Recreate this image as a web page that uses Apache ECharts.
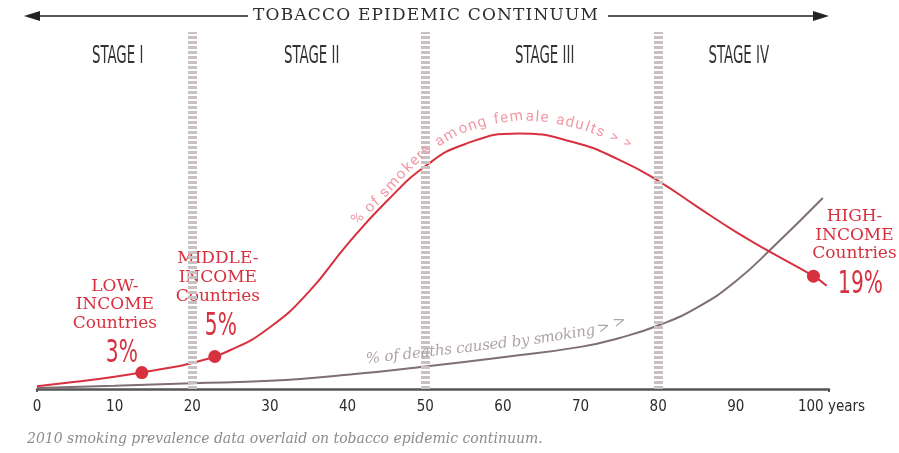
<!DOCTYPE html>
<html>
<head>
<meta charset="utf-8">
<script src="https://cdn.jsdelivr.net/npm/echarts@6/dist/echarts.min.js"></script>
<style>
  html, body { margin: 0; padding: 0; background: #fff; }
  #chart { width: 899px; height: 453px; }
</style>
</head>
<body>
<div id="chart"></div>
<script>
// years on the continuum
const xTicks = [0, 10, 20, 30, 40, 50, 60, 70, 80, 90, 100]
const stageBounds = [0, 20, 50, 80, 100]
const stageNames = ['STAGE I', 'STAGE II', 'STAGE III', 'STAGE IV']

// relative level (0-100) of the two curves
const femaleSmokers = [
  [0, 0.8], [5, 2.0], [10, 3.4], [15, 5.2], [20, 7.3], [25, 11.0], [30, 17.3],
  [35, 27.2], [40, 40.6], [45, 52.5], [50, 62.4], [55, 68.5], [62, 71.6],
  [69, 69.2], [75, 64.2], [80, 58.3], [85, 51.1], [90, 44.0], [95, 37.7], [100, 31.6], [101.7, 28.9]
]
const smokingDeaths = [
  [0, 0.3], [10, 0.9], [20, 1.6], [30, 2.3], [40, 4.0], [50, 6.3], [60, 8.9],
  [70, 11.8], [75, 14.3], [80, 17.8], [85, 22.8], [90, 30.2], [95, 40.2], [101.2, 53.5]
]

// 2010 prevalence points
const groupNames = [['LOW-', 'INCOME', 'Countries'], ['MIDDLE-', 'INCOME', 'Countries'], ['HIGH-', 'INCOME', 'Countries']]
const groupValues = ['3%', '5%', '19%']
const groupPoints = [[13.5, 4.6], [22.9, 9.1], [100, 31.6]]

const RED = '#d7313f'
const GREY = '#7f6f72'
const NARROW = "'Liberation Sans Narrow', 'DejaVu Sans Condensed', sans-serif"
const SLAB = "'DejaVu Serif', serif"

const chart = echarts.init(document.getElementById('chart'))

chart.setOption({
  animation: false,
  grid: { left: 37, right: 70, top: 32, bottom: 64 },
  xAxis: {
    type: 'value', min: 0, max: 102, interval: 10,
    splitLine: { show: false },
    axisLine: { lineStyle: { color: '#555', width: 2.5 } },
    axisTick: { show: true, customValues: [0, 102], length: 3, lineStyle: { color: '#555', width: 2 } },
    axisLabel: {
      margin: 11, color: '#2b2b2b', fontFamily: NARROW, fontSize: 15,
      formatter: (v) => {
        if (v === 100) return '{y|100 years}'
        return xTicks.indexOf(v) >= 0 ? String(v) : ''
      },
      rich: { y: { fontFamily: NARROW, fontSize: 15, color: '#2b2b2b', padding: [0, 0, 0, 36] } }
    }
  },
  yAxis: { type: 'value', min: 0, max: 100, show: false },
  series: [
    {
      type: 'line', data: [], z: 1, silent: true,
      markLine: {
        symbol: 'none', silent: true, label: { show: false },
        lineStyle: { color: '#c9c0c3', width: 9, type: [3, 2] },
        data: stageBounds.slice(1, 4).map(v => ({ xAxis: v }))
      }
    },
    {
      type: 'line', data: smokingDeaths, smooth: 0.5, showSymbol: false, z: 3,
      lineStyle: { color: GREY, width: 2 }
    },
    {
      type: 'line', data: femaleSmokers, smooth: 0.5, showSymbol: false, z: 4,
      lineStyle: { color: RED, width: 2 }
    },
    {
      type: 'scatter', data: groupPoints, symbolSize: 13, z: 5,
      itemStyle: { color: RED, opacity: 1 }
    }
  ]
})

// text laid along a polyline, one glyph at a time, spread to fill the path
const measure = document.createElement('canvas').getContext('2d')
function textAlong(text, pts, font, color) {
  measure.font = font
  const segs = []
  let total = 0
  for (let i = 1; i < pts.length; i++) {
    const dx = pts[i][0] - pts[i - 1][0], dy = pts[i][1] - pts[i - 1][1]
    const len = Math.sqrt(dx * dx + dy * dy)
    segs.push({ p: pts[i - 1], dx, dy, len, start: total })
    total += len
  }
  const chars = Array.from(text)
  const widths = chars.map(ch => measure.measureText(ch).width)
  const used = widths.reduce((a, b) => a + b, 0)
  const spacing = (total - used) / (chars.length - 1)
  const out = []
  let d = 0
  chars.forEach((ch, k) => {
    const w = widths[k]
    const mid = d + w / 2
    let s = segs[segs.length - 1]
    for (const sg of segs) { if (mid <= sg.start + sg.len) { s = sg; break } }
    const t = (mid - s.start) / s.len
    out.push({
      type: 'text', x: s.p[0] + s.dx * t, y: s.p[1] + s.dy * t,
      rotation: -Math.atan2(s.dy, s.dx), silent: true, z: 10,
      style: { text: ch, font, fill: color, align: 'center', verticalAlign: 'bottom' }
    })
    d += w + spacing
  })
  return out
}

const px = (v) => chart.convertToPixel({ gridIndex: 0 }, v)
const g = []

// header arrow + title
g.push({ type: 'line', shape: { x1: 36, y1: 16, x2: 248, y2: 16 }, style: { stroke: '#222', lineWidth: 1.5 } })
g.push({ type: 'polygon', shape: { points: [[24, 16], [40, 11], [40, 21]] }, style: { fill: '#222' } })
g.push({ type: 'line', shape: { x1: 608, y1: 16, x2: 816, y2: 16 }, style: { stroke: '#222', lineWidth: 1.5 } })
g.push({ type: 'polygon', shape: { points: [[829, 16], [813, 11], [813, 21]] }, style: { fill: '#222' } })
g.push(...textAlong('TOBACCO EPIDEMIC CONTINUUM', [[253, 24], [598, 24]], '17px ' + SLAB, '#2e2e2e'))

// stage names, centred between boundaries
stageNames.forEach((name, i) => {
  const c = px([(stageBounds[i] + stageBounds[i + 1]) / 2, 0])
  g.push({
    type: 'text', x: c[0] + 3, y: 57, scaleX: 0.62,
    style: { text: name, font: '24px ' + NARROW, fill: '#333', align: 'center', verticalAlign: 'middle' }
  })
})

// labels beside each prevalence point
const labelOffsets = [
  { dx: -27, lines: [-86, -68, -49], num: [-20, -19] },
  { dx: 3, lines: [-98, -79, -60], num: [6, -30] },
  { dx: 41, lines: [-60, -41, -23], num: [47, 8] }
]
groupPoints.forEach((p, i) => {
  const c = px(p)
  const o = labelOffsets[i]
  groupNames[i].forEach((line, j) => {
    g.push({
      type: 'text', x: c[0] + o.dx, y: c[1] + o.lines[j],
      style: { text: line, font: '17px ' + SLAB, fill: RED, align: 'center', verticalAlign: 'middle' }
    })
  })
  g.push({
    type: 'text', x: c[0] + o.num[0], y: c[1] + o.num[1], scaleX: 0.7,
    style: { text: groupValues[i], font: '32px ' + NARROW, fill: RED, align: 'center', verticalAlign: 'middle' }
  })
})

// curve captions
g.push(...textAlong('% of smokers among female adults > >',
  [[359, 228], [385, 204], [410, 176], [432, 155], [460, 138], [490, 128], [520, 124], [550, 126], [580, 133], [605, 142], [628, 152]],
  '15px Roboto', '#f29aa5'))
g.push(...textAlong('% of deaths caused by smoking > >',
  [[367, 367], [455, 357], [540, 347], [600, 337], [628, 327]],
  'italic 15px ' + SLAB, '#aea4a6'))

// footnote
g.push({
  type: 'text', x: 27, y: 439,
  style: { text: '2010 smoking prevalence data overlaid on tobacco epidemic continuum.', font: 'italic 14px ' + SLAB, fill: '#8c8c8c', align: 'left', verticalAlign: 'middle' }
})

chart.setOption({ graphic: g })
</script>
</body>
</html>
